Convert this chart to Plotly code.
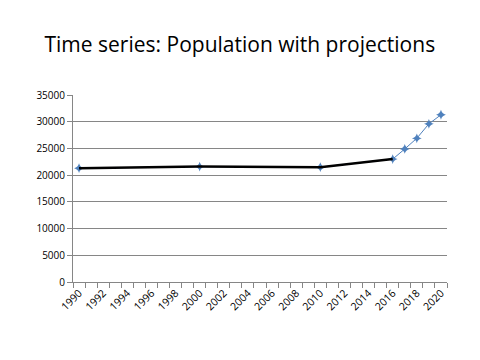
import plotly.graph_objects as go

years_all = [1990, 2000, 2010, 2016, 2017, 2018, 2019, 2020]
pop_all = [21300, 21600, 21500, 23000, 24900, 26900, 29600, 31300]
years_hist = [1990, 2000, 2010, 2016]
pop_hist = [21300, 21600, 21500, 23000]
tick_years = list(range(1990, 2021, 2))
y_ticks = list(range(0, 35001, 5000))

fig = go.Figure()
fig.add_trace(go.Scatter(
    x=years_all, y=pop_all, mode="lines+markers",
    line=dict(color="#4F81BD", width=1),
    marker=dict(symbol="star-diamond", size=7, color="#4F81BD"),
    showlegend=False,
))
fig.add_trace(go.Scatter(
    x=years_hist, y=pop_hist, mode="lines",
    line=dict(color="#000000", width=2.5),
    showlegend=False,
))

fig.update_layout(
    width=480, height=360,
    paper_bgcolor="white", plot_bgcolor="white",
    margin=dict(l=65, r=41, t=87, b=86),
    title=dict(text="Time series: Population with projections",
               x=0.483, xanchor="center", y=0.897, yanchor="middle",
               font=dict(family="Open Sans", size=21, color="black")),
    font=dict(family="Open Sans", size=10, color="black"),
)
fig.update_xaxes(
    range=[1989.5, 2020.5],
    tickmode="array", tickvals=tick_years, ticktext=[str(y) for y in tick_years],
    tickangle=-45, ticks="", showgrid=False, zeroline=False,
    showline=True, linecolor="#868686", linewidth=1,
    minor=dict(tick0=1989.5, dtick=1, ticks="outside", ticklen=5,
               tickcolor="#868686", showgrid=False),
    tickfont=dict(size=10.5, color="black"),
)
fig.update_yaxes(
    range=[0, 35000], tickmode="array", tickvals=y_ticks,
    ticktext=[str(v) for v in y_ticks],
    ticks="outside", ticklen=5, tickcolor="#868686",
    showgrid=True, gridcolor="#868686", gridwidth=1, zeroline=False,
    showline=True, linecolor="#868686", linewidth=1,
    tickfont=dict(size=10, color="black"),
)

fig.write_html("out.html")
